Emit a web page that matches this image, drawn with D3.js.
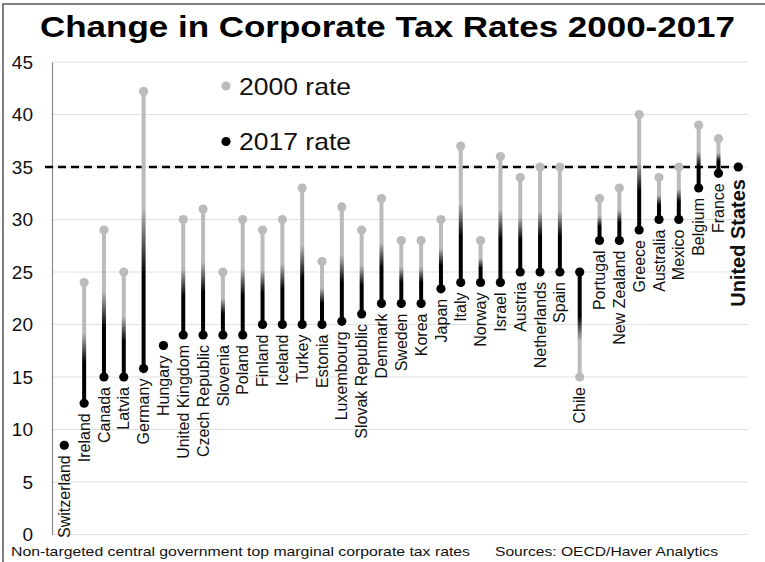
<!DOCTYPE html>
<html>
<head>
<meta charset="utf-8">
<script src="https://cdn.jsdelivr.net/npm/d3@7"></script>
<style>
  html, body { margin: 0; padding: 0; background: #fff; }
  svg { display: block; font-family: "Liberation Sans", Arial, sans-serif; }
</style>
</head>
<body>
<svg id="chart" width="765" height="562"></svg>
<script>
const countries = ["Switzerland", "Ireland", "Canada", "Latvia", "Germany", "Hungary", "United Kingdom",
  "Czech Republic", "Slovenia", "Poland", "Finland", "Iceland", "Turkey", "Estonia", "Luxembourg",
  "Slovak Republic", "Denmark", "Sweden", "Korea", "Japan", "Italy", "Norway", "Israel", "Austria",
  "Netherlands", "Spain", "Chile", "Portugal", "New Zealand", "Greece", "Australia", "Mexico",
  "Belgium", "France", "United States"];
const rate2000 = [8.5, 24, 29, 25, 42.2, 18, 30, 31, 25, 30, 29, 30, 33, 26, 31.2, 29, 32, 28, 28, 30,
  37, 28, 36, 34, 35, 35, 15, 32, 33, 40, 34, 35, 39, 37.7, 35];
const rate2017 = [8.5, 12.5, 15, 15, 15.8, 18, 19, 19, 19, 19, 20, 20, 20, 20, 20.3, 21, 22, 22, 22, 23.4,
  24, 24, 24, 25, 25, 25, 25, 28, 28, 29, 30, 30, 33, 34.4, 35];
const yTicks = [0, 5, 10, 15, 20, 25, 30, 35, 40, 45];
const referenceRate = 35;
const titleText = "Change in Corporate Tax Rates 2000-2017";
const legendLabels = ["2000 rate", "2017 rate"];
const footLeft = "Non-targeted central government top marginal corporate tax rates";
const footRight = "Sources: OECD/Haver Analytics";

const GRAY = "#bbbbbb";
const data = countries.map((c, i) => ({ country: c, a: rate2000[i], b: rate2017[i] }));

const svg = d3.select("#chart");

// frame
svg.append("path").attr("d", "M3,562 V4 H765").attr("fill", "none")
  .attr("stroke", "#555").attr("stroke-width", 1.5);

const x = d3.scalePoint().domain(countries).range([54.4, 748.2]).padding(0.5);
const y = d3.scaleLinear().domain([0, 45]).range([534.5, 62]);

// gradients
const defs = svg.append("defs");
function grad(id, topColor, bottomColor) {
  const g = defs.append("linearGradient").attr("id", id)
    .attr("x1", 0).attr("y1", 0).attr("x2", 0).attr("y2", 1);
  g.append("stop").attr("offset", "0%").attr("stop-color", topColor);
  g.append("stop").attr("offset", "42%").attr("stop-color", topColor);
  g.append("stop").attr("offset", "66%").attr("stop-color", bottomColor);
  g.append("stop").attr("offset", "100%").attr("stop-color", bottomColor);
}
grad("gDown", GRAY, "#000");
grad("gUp", "#000", GRAY);

// gridlines
svg.append("g").selectAll("line").data(yTicks).join("line")
  .attr("x1", 52).attr("x2", 748)
  .attr("y1", d => y(d)).attr("y2", d => y(d))
  .attr("stroke", "#e0e0e0").attr("stroke-width", 1.2);

// y axis
const yAxis = svg.append("g").attr("transform", "translate(52,0)")
  .call(d3.axisLeft(y).tickValues(yTicks).tickSize(0).tickPadding(19));
yAxis.select(".domain").attr("stroke", "#888").attr("stroke-width", 1.2);
yAxis.selectAll("text").attr("font-size", 19).attr("fill", "#111")
  .attr("font-family", "'Liberation Sans', Arial, sans-serif");

// reference dashed line
svg.append("line")
  .attr("x1", 45).attr("x2", x("United States"))
  .attr("y1", y(referenceRate)).attr("y2", y(referenceRate))
  .attr("stroke", "#000").attr("stroke-width", 2.5).attr("stroke-dasharray", "8,5");

// stems
svg.append("g").selectAll("rect").data(data.filter(d => d.a !== d.b)).join("rect")
  .attr("x", d => x(d.country) - 2)
  .attr("width", 4)
  .attr("y", d => y(Math.max(d.a, d.b)))
  .attr("height", d => Math.abs(y(d.a) - y(d.b)))
  .attr("fill", d => d.a > d.b ? "url(#gDown)" : "url(#gUp)");

// dots
svg.append("g").selectAll("circle").data(data).join("circle")
  .attr("cx", d => x(d.country)).attr("cy", d => y(d.a)).attr("r", 4.6).attr("fill", GRAY);
svg.append("g").selectAll("circle").data(data).join("circle")
  .attr("cx", d => x(d.country)).attr("cy", d => y(d.b)).attr("r", 4.6).attr("fill", "#000");

// country labels
svg.append("g").selectAll("text").data(data).join("text")
  .attr("transform", d => {
    const us = d.country === "United States";
    return `translate(${x(d.country)},${y(Math.min(d.a, d.b)) + (us ? 12 : 10)}) rotate(-90)`;
  })
  .attr("text-anchor", "end")
  .attr("dy", "0.35em")
  .attr("font-size", d => d.country === "United States" ? 20 : 16)
  .attr("font-weight", d => d.country === "United States" ? "bold" : "normal")
  .attr("fill", "#111")
  .text(d => d.country);

// title
svg.append("text").attr("x", 40).attr("y", 37)
  .attr("font-size", 30).attr("font-weight", "bold").attr("fill", "#000")
  .attr("textLength", 695).attr("lengthAdjust", "spacingAndGlyphs")
  .text(titleText);

// legend
const legendY = [86, 141.5];
const legendColors = [GRAY, "#000"];
legendLabels.forEach((lab, i) => {
  svg.append("circle").attr("cx", 226).attr("cy", legendY[i]).attr("r", 4.6).attr("fill", legendColors[i]);
  svg.append("text").attr("x", 239).attr("y", legendY[i] + 8.5)
    .attr("font-size", 24).attr("fill", "#111")
    .attr("textLength", 112).attr("lengthAdjust", "spacingAndGlyphs")
    .text(lab);
});

// footer
svg.append("text").attr("x", 11).attr("y", 556).attr("font-size", 13.5).attr("fill", "#111")
  .attr("textLength", 459).attr("lengthAdjust", "spacingAndGlyphs").text(footLeft);
svg.append("text").attr("x", 495).attr("y", 556).attr("font-size", 13.5).attr("fill", "#111")
  .attr("textLength", 223).attr("lengthAdjust", "spacingAndGlyphs").text(footRight);
</script>
</body>
</html>
